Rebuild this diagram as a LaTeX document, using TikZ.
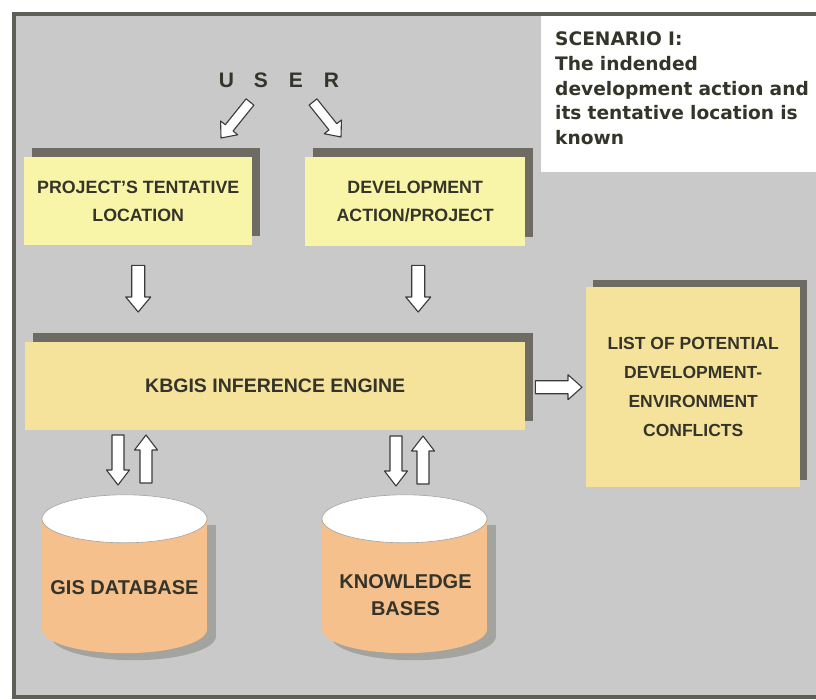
\documentclass[tikz,border=0pt]{standalone}
\usepackage{fontspec}
\setmainfont{Liberation Sans}
\newfontfamily\notefont{DejaVu Sans}
\usetikzlibrary{calc}
\definecolor{framebg}{HTML}{C9C9C9}
\definecolor{frameline}{HTML}{5E5E58}
\definecolor{paleyellow}{HTML}{F9F5A8}
\definecolor{sandyellow}{HTML}{F5E39C}
\definecolor{peach}{HTML}{F6C08C}
\definecolor{dropshade}{HTML}{6E6B62}
\definecolor{softshade}{HTML}{A3A3A0}
\definecolor{inkdark}{HTML}{34342A}
\definecolor{arrowline}{HTML}{3A3A36}
\pgfdeclarelayer{bg}
\pgfdeclarelayer{shade}
\pgfsetlayers{bg,shade,main}
\tikzset{
  boxlabel/.style={font=\bfseries\fontsize{17.8}{28}\selectfont, text=inkdark, align=center, inner sep=0pt},
  stickbox/.style={boxlabel, fill=paleyellow, anchor=north west},
  drumlabel/.style={boxlabel, font=\bfseries\fontsize{20}{27}\selectfont},
  pics/arrowshape/.style n args={4}{code={
    \draw[draw=arrowline, fill=white, line width=1.1pt, line join=round]
      (0,-#2) -- ({#1-#4},-#2) -- ({#1-#4},-#3) -- (#1,0) -- ({#1-#4},#3)
      -- ({#1-#4},#2) -- (0,#2) -- cycle;}}
}
% hollow block arrow from #1 to #2: half shaft #3, half head #4, head length #5
\newcommand\blockarrowdraw[5]{%
  \path let \p1=(#1), \p2=(#2),
    \n1={atan2(\y2-\y1,\x2-\x1)}, \n2={veclen(\x2-\x1,\y2-\y1)} in
    pic[rotate=\n1] at (\p1) {arrowshape={\n2}{#3}{#4}{#5}};}
% database drum drawn around a named node (y axis points down the page)
\newcommand\drum[1]{%
  \begin{pgfonlayer}{shade}
    \fill[softshade] ($(#1.north west)+(9,30)$) rectangle ($(#1.south east)+(9,-17)$);
    \fill[softshade] ($(#1.south)+(9,-17)$) ellipse (82.5 and 24);
    \fill[peach] ($(#1.north west)+(0,24)$) rectangle ($(#1.south east)+(0,-24)$);
    \fill[peach] ($(#1.south)+(0,-24)$) ellipse (82.5 and 24);
    \fill[white, draw=softshade, line width=0.6pt] ($(#1.north)+(0,24)$) ellipse (82.5 and 24);
  \end{pgfonlayer}}
\begin{document}
\begin{tikzpicture}[x=1pt, y=-1pt]
\useasboundingbox (0,0) rectangle (816,700);
\begin{pgfonlayer}{bg}
  \fill[white] (0,0) rectangle (816,700);
  \draw[fill=framebg, draw=frameline, line width=4pt] (14,14) rectangle (830,697);
  \fill[white] (541,16) rectangle (818,172);
\end{pgfonlayer}

% scenario note
\node[anchor=north west, inner sep=0pt, align=left, text width=262pt,
      font=\notefont\bfseries\fontsize{18.6}{24.5}\selectfont, text=inkdark]
  (note) at (555,32) {SCENARIO I:\\The indended\\development action and\\its tentative location is\\known};

% user
\node[font=\bfseries\fontsize{21}{24}\selectfont, text=inkdark, inner sep=0pt]
  (user) at (279,80) {U\kern20pt S\kern21pt E\kern21pt R};

% input boxes
\node[stickbox, minimum width=228pt, minimum height=88pt] (loc) at (24,157)
  {PROJECT'S TENTATIVE\\LOCATION};
\node[stickbox, minimum width=220pt, minimum height=89pt] (dev) at (305,157)
  {DEVELOPMENT\\ACTION/PROJECT};

% inference engine and results
\node[boxlabel, fill=sandyellow, anchor=north west, minimum width=500pt, minimum height=88pt,
      font=\bfseries\fontsize{19.5}{24}\selectfont] (engine) at (25,342)
  {KBGIS INFERENCE ENGINE};
\node[boxlabel, fill=sandyellow, anchor=north west, minimum width=214pt, minimum height=200pt,
      font=\bfseries\fontsize{17.5}{29}\selectfont] (list) at (586,287)
  {LIST OF POTENTIAL\\DEVELOPMENT-\\ENVIRONMENT\\CONFLICTS};

\begin{pgfonlayer}{shade}
  \foreach \b in {loc,dev,engine}
    \fill[dropshade] ($(\b.north west)+(8,-9)$) rectangle ($(\b.south east)+(8,-9)$);
  \fill[dropshade] ($(list.north west)+(7,-7)$) rectangle ($(list.south east)+(7,-7)$);
\end{pgfonlayer}

% databases
\node[minimum width=165pt, minimum height=158pt, inner sep=0pt] (gis) at (124.5,574) {};
\node[minimum width=165pt, minimum height=158pt, inner sep=0pt] (kb) at (404.5,574) {};
\drum{gis}
\drum{kb}
\node[drumlabel] (gistext) at ($(gis.center)+(0,14)$) {GIS DATABASE};
\node[drumlabel] (kbtext) at ($(kb.center)+(1,21)$) {KNOWLEDGE\\BASES};

% arrow end points
\coordinate (ua1) at (250,102); \coordinate (ub1) at (221,138);
\coordinate (ua2) at (313,102); \coordinate (ub2) at (341,137);
\coordinate (da1) at ($(loc.south)+(0,20)$);  \coordinate (db1) at ($(loc.south |- engine.north)+(0,-30)$);
\coordinate (da2) at ($(dev.south)+(3,19)$);  \coordinate (db2) at ($(dev.south |- engine.north)+(3,-30)$);
\coordinate (ra) at ($(engine.east)+(10,1)$);  \coordinate (rb) at ($(list.west |- engine.east)+(-4,1)$);
\coordinate (g1a) at (118,435); \coordinate (g1b) at (118,485);
\coordinate (g2a) at (146,483); \coordinate (g2b) at (146,435);
\coordinate (k1a) at (396,436); \coordinate (k1b) at (396,486);
\coordinate (k2a) at (423,484); \coordinate (k2b) at (423,436);

\blockarrowdraw{ua1}{ub1}{5}{11}{13}
\blockarrowdraw{ua2}{ub2}{5}{11}{13}
\blockarrowdraw{da1}{db1}{6.5}{12.5}{15}
\blockarrowdraw{da2}{db2}{6.5}{12.5}{15}
\blockarrowdraw{ra}{rb}{6.5}{12.5}{14}
\blockarrowdraw{g1a}{g1b}{6}{11.5}{15}
\blockarrowdraw{g2a}{g2b}{6}{11.5}{15}
\blockarrowdraw{k1a}{k1b}{6}{11.5}{15}
\blockarrowdraw{k2a}{k2b}{6}{11.5}{15}
\end{tikzpicture}
\end{document}
